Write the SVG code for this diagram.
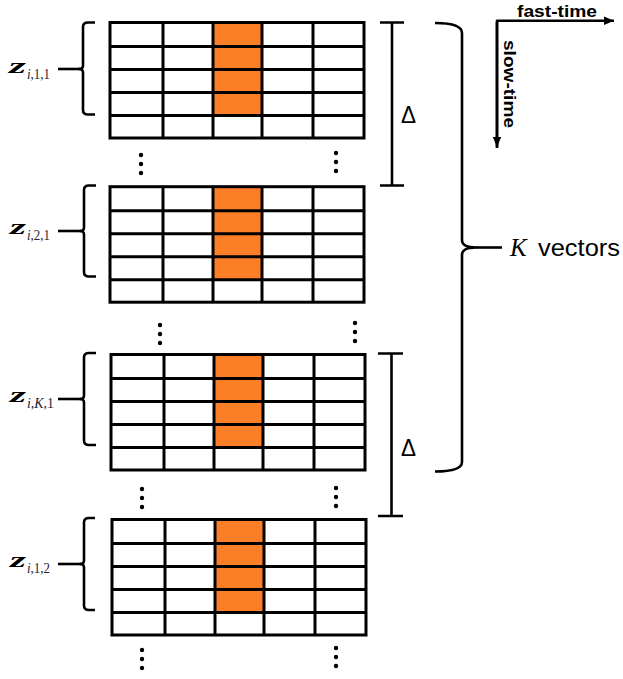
<svg xmlns="http://www.w3.org/2000/svg" xmlns:xlink="http://www.w3.org/1999/xlink" width="623" height="679" viewBox="0 0 623 679">
  <style>
    .ln { fill: none; stroke: #000; stroke-width: 3; }
    .br { fill: none; stroke: #000; stroke-width: 2.6; stroke-linejoin: round; }
    .dot { fill: #000; }
    .zb { font-family: "Liberation Serif", "DejaVu Serif", serif; font-weight: bold; font-style: italic; font-size: 20px; fill: #000; }
    .zs { font-family: "Liberation Serif", "DejaVu Serif", serif; font-size: 15px; fill: #1c2436; }
    .it { font-style: italic; }
    .dl { font-family: "Liberation Sans", "DejaVu Sans", sans-serif; font-size: 24px; fill: #000; }
    .ax { font-family: "Liberation Sans", "DejaVu Sans", sans-serif; font-weight: bold; font-size: 17px; fill: #000; }
    .kv { font-family: "Liberation Sans", "DejaVu Sans", sans-serif; font-size: 24px; fill: #000; }
    .kk { font-family: "Liberation Serif", "DejaVu Serif", serif; font-style: italic; font-size: 25px; fill: #000; }
  </style>
  <defs>
    <marker id="arrow" markerUnits="userSpaceOnUse" markerWidth="12" markerHeight="10" refX="10" refY="5" orient="auto">
      <path d="M0,0.8 L10,5 L0,9.2 Z" fill="#000"/>
    </marker>
    <!-- one 5x5 sample block: white cells, highlighted column in orange -->
    <g id="grid">
      <rect x="0" y="0" width="254" height="115.5" fill="#fff"/>
      <rect x="103" y="0" width="49" height="93" fill="#FC7F27"/>
      <rect class="ln" x="0" y="0" width="254" height="115.5"/>
      <path class="ln" d="M0,24 H254 M0,47 H254 M0,70 H254 M0,93 H254 M53,0 V115.5 M103,0 V115.5 M152,0 V115.5 M203,0 V115.5"/>
    </g>
    <g id="vdots">
      <circle cx="0" cy="0" r="2.2"/>
      <circle cx="0" cy="9" r="2.2"/>
      <circle cx="0" cy="18" r="2.2"/>
    </g>
  </defs>

  <!-- block z_{i,1,1} -->
  <g id="block-i-1-1">
    <use xlink:href="#grid" href="#grid" x="110" y="22.5"/>
    <path class="br" d="M95,22.5 H88 Q83,22.5 83,27 V65.5 Q83,69 79,69 Q83,69 83,72.5 V110 Q83,114.5 88,114.5 H95"/>
    <text class="zb" x="9" y="73" textLength="17" lengthAdjust="spacingAndGlyphs">z</text>
    <text class="zs" x="27" y="79" textLength="23" lengthAdjust="spacingAndGlyphs"><tspan class="it">i</tspan>,1,1</text>
  </g>

  <!-- block z_{i,2,1} -->
  <g id="block-i-2-1">
    <use xlink:href="#grid" href="#grid" x="110" y="186.7"/>
    <path class="br" d="M96,185.5 H89 Q84,185.5 84,190 V227.5 Q84,231 80,231 Q84,231 84,234.5 V272 Q84,276.5 89,276.5 H96"/>
    <text class="zb" x="10" y="234" textLength="16" lengthAdjust="spacingAndGlyphs">z</text>
    <text class="zs" x="27" y="240" textLength="23" lengthAdjust="spacingAndGlyphs"><tspan class="it">i</tspan>,2,1</text>
  </g>

  <!-- block z_{i,K,1} -->
  <g id="block-i-K-1">
    <use xlink:href="#grid" href="#grid" x="111" y="354.5"/>
    <path class="br" d="M96,353 H89 Q84,353 84,357.5 V395.5 Q84,399 80,399 Q84,399 84,402.5 V440.5 Q84,445 89,445 H96"/>
    <text class="zb" x="10" y="402" textLength="16" lengthAdjust="spacingAndGlyphs">z</text>
    <text class="zs" x="27" y="408" textLength="27" lengthAdjust="spacingAndGlyphs"><tspan class="it">i</tspan>,<tspan class="it">K</tspan>,1</text>
  </g>

  <!-- block z_{i,1,2} -->
  <g id="block-i-1-2">
    <use xlink:href="#grid" href="#grid" x="112" y="519.5"/>
    <path class="br" d="M95,518 H89 Q84,518 84,522.5 V560.5 Q84,564 80,564 Q84,564 84,567.5 V605.5 Q84,610 89,610 H95"/>
    <text class="zb" x="10" y="567" textLength="16" lengthAdjust="spacingAndGlyphs">z</text>
    <text class="zs" x="27" y="573" textLength="23" lengthAdjust="spacingAndGlyphs"><tspan class="it">i</tspan>,1,2</text>
  </g>

  <!-- ellipsis dots between blocks -->
  <g id="ellipses" class="dot">
    <use xlink:href="#vdots" href="#vdots" x="141" y="155"/>
    <use xlink:href="#vdots" href="#vdots" x="336" y="153"/>
    <use xlink:href="#vdots" href="#vdots" x="160" y="325"/>
    <use xlink:href="#vdots" href="#vdots" x="355" y="323"/>
    <use xlink:href="#vdots" href="#vdots" x="142" y="489"/>
    <use xlink:href="#vdots" href="#vdots" x="336" y="488"/>
    <use xlink:href="#vdots" href="#vdots" x="142" y="650"/>
    <use xlink:href="#vdots" href="#vdots" x="336" y="648"/>
  </g>

  <!-- spacing markers Δ -->
  <g id="delta-1">
    <path class="br" d="M380,22.5 H404 M392,22.5 V185.5 M380,185.5 H404"/>
    <text class="dl" x="401" y="123" textLength="15" lengthAdjust="spacingAndGlyphs">Δ</text>
  </g>
  <g id="delta-2">
    <path class="br" d="M378,353.5 H403 M391.5,353.5 V516 M378,516 H403"/>
    <text class="dl" x="401" y="456" textLength="15" lengthAdjust="spacingAndGlyphs">Δ</text>
  </g>

  <!-- K vectors brace -->
  <g id="k-vectors">
    <path class="br" d="M435,23 Q462,23 462,33 V240 Q462,247.5 476,247.5 Q462,247.5 462,255 V462 Q462,471.5 435,471.5"/>
    <text class="kk" x="510" y="256">K</text>
    <text class="kv" x="538" y="256" textLength="82" lengthAdjust="spacingAndGlyphs">vectors</text>
  </g>

  <!-- fast-time / slow-time axes -->
  <g id="axes">
    <text class="ax" x="517" y="16.5" textLength="80" lengthAdjust="spacingAndGlyphs">fast-time</text>
    <text class="ax" transform="translate(504,40) rotate(90)" x="0" y="0" textLength="88" lengthAdjust="spacingAndGlyphs">slow-time</text>
  </g>

  <g id="connectors">
    <line class="br" x1="58" y1="69" x2="80" y2="69"/>
    <line class="br" x1="58" y1="231" x2="81" y2="231"/>
    <line class="br" x1="58" y1="399" x2="81" y2="399"/>
    <line class="br" x1="58" y1="564" x2="81" y2="564"/>
    <line class="br" x1="476" y1="247.5" x2="502" y2="247.5"/>
    <path class="br" d="M497,148 V20.7 H614" marker-end="url(#arrow)"/>
    <line class="br" x1="497" y1="22" x2="497" y2="147" marker-end="url(#arrow)"/>
  </g>
</svg>
